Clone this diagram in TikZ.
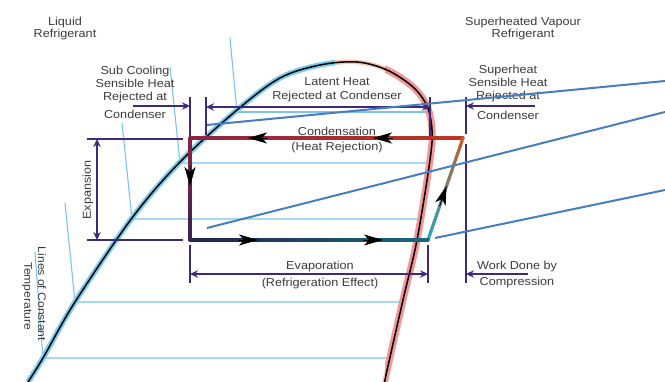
\documentclass[tikz,border=0pt]{standalone}
\usepackage{fontspec}
\setmainfont{Liberation Sans}[FakeStretch=1.1]
\usetikzlibrary{arrows.meta,calc}
\definecolor{dimc}{RGB}{62,42,122}
\definecolor{tline}{RGB}{125,195,235}
\definecolor{bline}{RGB}{72,126,192}
\definecolor{txt}{RGB}{62,58,60}
\definecolor{gblue}{RGB}{120,205,238}
\definecolor{gpeach}{RGB}{248,195,175}
\definecolor{gpink}{RGB}{242,150,150}
\definecolor{cD}{RGB}{192,52,32}
\definecolor{cA}{RGB}{140,35,70}
\definecolor{cB}{RGB}{55,35,85}
\definecolor{cBb}{RGB}{35,35,75}
\definecolor{cC}{RGB}{25,105,130}
\definecolor{cCc}{RGB}{40,165,195}
\definecolor{cDd}{RGB}{200,95,40}
\tikzset{
  lbl/.style={font=\fontsize{11.5}{13}\selectfont, text=txt, align=center, inner sep=0pt},
  dim/.style={draw=dimc, line width=1.6pt},
  dimarrow/.style={dim, -{Stealth[length=8pt,width=7.5pt]}},
  dimboth/.style={dim, {Stealth[length=8pt,width=7.5pt]}-{Stealth[length=8pt,width=7.5pt]}},
  templine/.style={draw=tline, line width=1.1pt},
  callout/.style={draw=bline, line width=2pt},
  cyc/.style={line width=3.2pt, line cap=round},
  flowtip/.style={draw=black, line width=0.8pt, -{Stealth[length=19pt,width=11pt,inset=5pt]}},
}
\begin{document}
\begin{tikzpicture}[x=1pt,y=-1pt]
\useasboundingbox (0,0) rectangle (665,382);
\coordinate (A) at (190,138);
\coordinate (B) at (190,240);
\coordinate (C) at (428,240);
\coordinate (D) at (463,138);

% lines of constant temperature
\draw[templine] (237,112) -- (428,112);
\draw[templine] (230,38) -- (237,112);
\draw[templine] (170,67) -- (180,163) -- (428,163);
\draw[templine] (122,123) -- (132,219) -- (420,219);
\draw[templine] (65,203) -- (75,302) -- (403,302);
\draw[templine] (35,252) -- (43,358) -- (389,358);

% saturation dome
\path[save path=\dome] plot[smooth,tension=0.55] coordinates {(28,382) (43,358) (75,302) (132,218) (180,162) (237,110) (280,78) (320,65) (357,62) (387,70) (413,87) (427,106) (432,130) (430,160) (417,240) (403,300) (386,375) (385,382)};
\begin{scope}
  \clip (0,0) rectangle (335,382);
  \draw[use path=\dome, draw=gblue, line width=5.5pt];
\end{scope}
\begin{scope}
  \clip (335,0) rectangle (385,382);
  \draw[use path=\dome, draw=gpeach, line width=4.5pt];
\end{scope}
\begin{scope}
  \clip (385,0) rectangle (665,382);
  \draw[use path=\dome, draw=gpink, line width=7pt];
\end{scope}
\draw[use path=\dome, draw=black, line width=1.5pt];

% dimension lines
\draw[dim] (190,97) -- (190,138);
\draw[dim] (206,97) -- (206,135);
\draw[dim] (430,97) -- (430,137);
\draw[dim] (466,97) -- (466,134);
\draw[dim] (466,144) -- (466,283);
\draw[dim] (190,245) -- (190,283);
\draw[dim] (428,245) -- (428,283);
\draw[dim] (87,139) -- (183,139);
\draw[dim] (87,240) -- (183,240);
\draw[dimarrow] (133,106) -- (190,106);
\draw[dimboth] (206,107) -- (430,107);
\draw[dimarrow] (535,106) -- (466,106);
\draw[dimarrow] (528,274) -- (466,274);
\draw[dimboth] (190,274) -- (428,274);
\draw[dimboth] (97,139) -- (97,240);

% refrigeration cycle with colour gradients
\foreach \i in {0,...,24}{
  \pgfmathsetmacro{\a}{\i/25}
  \pgfmathsetmacro{\b}{(\i+1)/25}
  \pgfmathsetmacro{\p}{100-4*\i}
  \draw[cyc, draw=cD!\p!cA] ($(D)!\a!(A)$) -- ($(D)!\b!(A)$);
  \draw[cyc, draw=cA!\p!cB] ($(A)!\a!(B)$) -- ($(A)!\b!(B)$);
  \draw[cyc, draw=cBb!\p!cC] ($(B)!\a!(C)$) -- ($(B)!\b!(C)$);
  \draw[cyc, draw=cCc!\p!cDd] ($(C)!\a!(D)$) -- ($(C)!\b!(D)$);
}
% flow arrow heads
\draw[flowtip] (268,138) -- (248,138);
\draw[flowtip] (393,138) -- (373,138);
\draw[flowtip] (190,166) -- (190,186);
\draw[flowtip] (238,240) -- (258,240);
\draw[flowtip] (363,240) -- (383,240);
\draw[flowtip] ($(C)!0.33!(D)$) -- ($(C)!0.53!(D)$);

% labels
\node[lbl, font=\fontsize{11.5}{11.5}\selectfont] (liq) at (65,28.5) {Liquid\\Refrigerant};
\node[lbl] (sub) at (135,85) {Sub Cooling\\Sensible Heat\\Rejected at};
\node[lbl] (subc) at (135,114) {Condenser};
\node[lbl, font=\fontsize{11.5}{14}\selectfont] (lat) at (337,90) {Latent Heat\\Rejected at Condenser};
\node[lbl] (cond) at (337,131) {Condensation};
\node[lbl] (hr) at (337,148) {(Heat Rejection)};
\node[lbl, font=\fontsize{11.5}{11.5}\selectfont] (sv) at (523,28.5) {Superheated Vapour\\Refrigerant};
\node[lbl] (sup) at (508,83.5) {Superheat\\Sensible Heat\\Rejected at};
\node[lbl] (supc) at (508,115) {Condenser};
\node[lbl, font=\fontsize{11.5}{16}\selectfont] (work) at (517,275) {Work Done by\\Compression};
\node[lbl, font=\fontsize{11.5}{17}\selectfont] (evap) at (320,275.5) {Evaporation\\(Refrigeration Effect)};
\node[lbl, rotate=90] (exp) at (88,190) {Expansion};
\node[lbl, rotate=-90, font=\fontsize{11}{13}\selectfont] (lct1) at (42,294) {Lines of Constant};
\node[lbl, rotate=-90, font=\fontsize{11}{13}\selectfont] (lct2) at (27,296) {Temperature};

% callout lines
\draw[callout] (207,125) -- (665,81);
\draw[callout] (207,228) -- (665,112);
\draw[callout] (435,238) -- (665,190);
\end{tikzpicture}
\end{document}
